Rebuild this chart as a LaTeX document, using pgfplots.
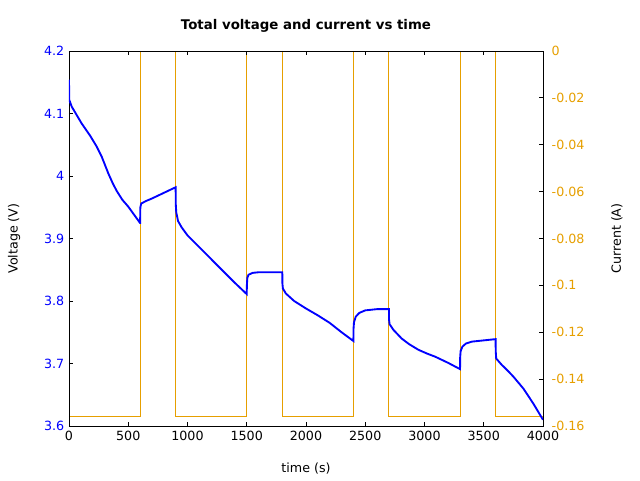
\documentclass[border=0pt]{standalone}
\usepackage{pgfplots}
\pgfplotsset{compat=1.18}
\usepackage{fontspec}
\setmainfont{DejaVu Sans}
\definecolor{vblue}{RGB}{0,0,255}
\definecolor{corange}{RGB}{230,159,0}
\begin{document}
\begin{tikzpicture}[font=\fontsize{9.5}{11}\selectfont]
\pgfplotsset{
  every axis/.append style={
    width=355.5pt, height=281.25pt, scale only axis,
    xmin=0, xmax=4000,
    tick align=inside,
    major tick length=3pt,
    axis line style={line width=0.6pt},
    every tick/.style={black, line width=0.6pt},
    /pgf/number format/assume math mode=true,
    /pgf/number format/set thousands separator={},
    tick label style={font=\fontsize{9.5}{11}\selectfont},
    label style={font=\fontsize{9.5}{11}\selectfont},
  }
}
% right axis (current) drawn first
\begin{axis}[
  name=right,
  axis y line*=right,
  axis x line=none,
  ymin=-0.16, ymax=0,
  ytick={-0.16,-0.14,-0.12,-0.1,-0.08,-0.06,-0.04,-0.02,0},
  yticklabels={-0.16,-0.14,-0.12,-0.1,-0.08,-0.06,-0.04,-0.02,0},
  yticklabel style={color=corange, anchor=west, xshift=3pt},
  ylabel={Current (A)},
  every axis y label/.style={at={(axis description cs:1.156,0.5)}, rotate=90, anchor=center},
]
\addplot[corange, line width=0.75pt] coordinates {
(0,-0.156)(600,-0.156)(600,0)(900,0)(900,-0.156)(1500,-0.156)(1500,0)(1800,0)
(1800,-0.156)(2400,-0.156)(2400,0)(2700,0)(2700,-0.156)(3300,-0.156)(3300,0)(3600,0)
(3600,-0.156)(4000,-0.156)};
\end{axis}
% left axis (voltage)
\begin{axis}[
  name=main,
  ymin=3.6, ymax=4.2,
  ytick={3.6,3.7,3.8,3.9,4,4.1,4.2},
  ytick pos=left,
  xtick pos=both,
  xtick={0,500,1000,1500,2000,2500,3000,3500,4000},
  yticklabel style={color=vblue},
  xlabel={time (s)},
  ylabel={Voltage (V)},
  every axis x label/.style={at={(axis description cs:0.5,-0.1147)}, anchor=center},
  every axis y label/.style={at={(axis description cs:-0.116,0.5)}, rotate=90, anchor=center},
  title={\fontsize{10}{12}\selectfont\bfseries Total voltage and current vs time},
  every axis title/.style={at={(axis description cs:0.5,1.0667)}, anchor=center},
]
\addplot[vblue, line width=1.4pt] coordinates {
(0,4.154)(2,4.122)(23,4.111)(107,4.084)(180,4.064)(234,4.047)(276,4.031)(332,4.004)(370,3.988)(403,3.976)(450,3.962)(500,3.951)(599,3.925)
(600,3.925)(602,3.950)(610,3.956)(650,3.960)(700,3.964)(800,3.973)(900,3.982)
(901,3.955)(905,3.942)(920,3.928)(950,3.918)(1000,3.905)(1100,3.886)(1200,3.867)(1300,3.848)(1400,3.829)(1500,3.811)
(1501,3.825)(1505,3.837)(1515,3.842)(1550,3.845)(1600,3.846)(1800,3.846)
(1801,3.828)(1805,3.820)(1830,3.812)(1900,3.800)(2000,3.788)(2100,3.777)(2200,3.765)(2300,3.750)(2400,3.736)
(2401,3.755)(2405,3.766)(2420,3.775)(2450,3.781)(2500,3.785)(2600,3.787)(2700,3.787)
(2701,3.770)(2705,3.763)(2737,3.754)(2807,3.740)(2870,3.731)(2948,3.722)(3020,3.716)(3089,3.711)(3200,3.701)(3300,3.691)
(3301,3.710)(3305,3.720)(3320,3.727)(3350,3.732)(3400,3.735)(3500,3.737)(3600,3.739)
(3601,3.720)(3605,3.708)(3651,3.698)(3700,3.689)(3750,3.679)(3834,3.660)(3918,3.636)(4000,3.610)
};
\end{axis}
\path ([shift={(-51.75pt,-40.5pt)}]main.south west) rectangle ([shift={(72.75pt,38.25pt)}]main.north east);
\end{tikzpicture}
\end{document}
